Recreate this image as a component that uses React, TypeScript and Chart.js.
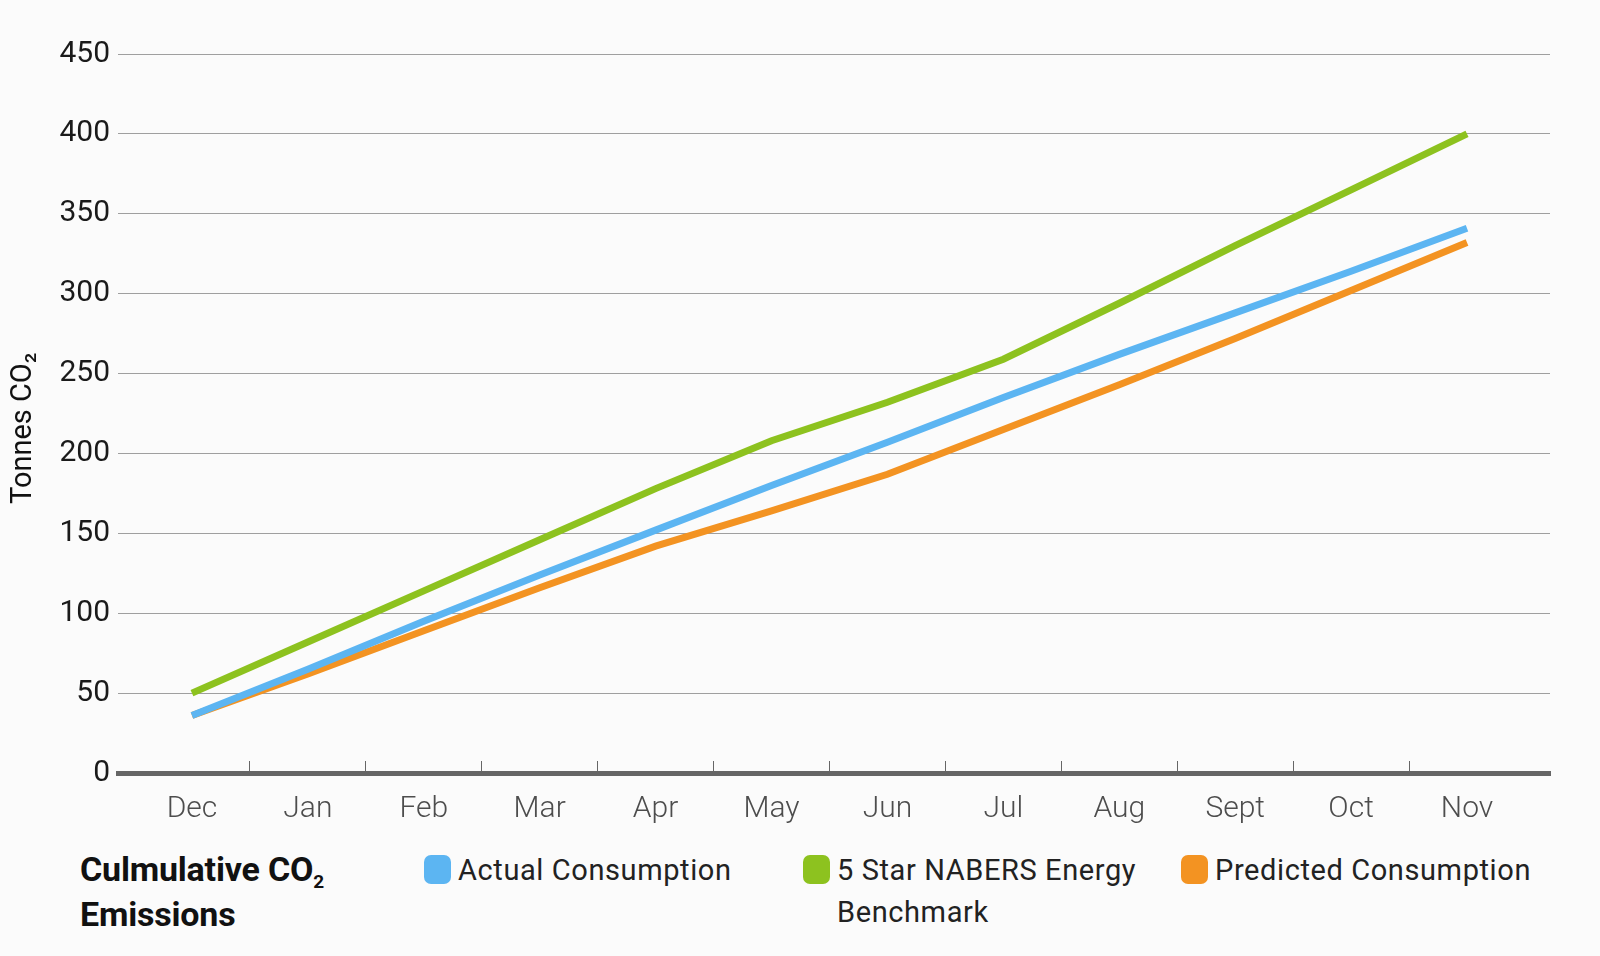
import React, { useEffect, useRef } from "react";
import { Chart, registerables } from "chart.js";

Chart.register(...registerables);

const months = ["Dec", "Jan", "Feb", "Mar", "Apr", "May", "Jun", "Jul", "Aug", "Sept", "Oct", "Nov"];
const yTickValues = [0, 50, 100, 150, 200, 250, 300, 350, 400, 450];
const actualConsumption = [36, 65, 95, 124, 152, 180, 207, 235, 262, 288, 314, 341];
const nabersBenchmark = [50, 82, 114, 146, 178, 208, 232, 259, 294, 330, 365, 400];
const predictedConsumption = [36, 62, 89, 116, 142, 164, 187, 215, 243, 272, 302, 332];
const seriesNames = ["Actual Consumption", "5 Star NABERS Energy Benchmark", "Predicted Consumption"];
const seriesColors = ["#5CB5F2", "#8DC21F", "#F39322"];
const yAxisTitle = "Tonnes CO\u2082";

const FONT = "Roboto, 'Noto Sans', 'DejaVu Sans', sans-serif";

export default function App() {
  const canvasRef = useRef<HTMLCanvasElement | null>(null);

  useEffect(() => {
    document.body.style.margin = "0";
    const canvas = canvasRef.current;
    if (!canvas) return;
    const seriesValues = [actualConsumption, nabersBenchmark, predictedConsumption];
    const chart = new Chart(canvas, {
      type: "line",
      data: {
        datasets: seriesValues.map((vals, k) => ({
          label: seriesNames[k],
          data: vals.map((v, i) => ({ x: i, y: v })),
          borderColor: seriesColors[k],
          backgroundColor: seriesColors[k],
          borderWidth: 7,
          pointRadius: 0,
          tension: 0,
          fill: false,
        })),
      },
      options: {
        animation: false,
        responsive: false,
        maintainAspectRatio: false,
        layout: { padding: { left: 0, right: 50, top: 54, bottom: 7 } },
        plugins: { legend: { display: false }, tooltip: { enabled: false } },
        scales: {
          x: {
            type: "linear",
            min: -0.638,
            max: 11.716,
            afterBuildTicks: (scale: any) => {
              scale.ticks = months.map((_, i) => ({ value: i }));
            },
            afterFit: (scale: any) => {
              scale.height = 60;
            },
            ticks: {
              autoSkip: false,
              maxRotation: 0,
              padding: 30,
              color: "#4d4d4d",
              font: { family: FONT, size: 30, weight: "300" },
              callback: (v: any) => months[v as number] ?? "",
            },
            grid: {
              offset: true,
              drawOnChartArea: false,
              drawTicks: true,
              tickLength: -12,
              lineWidth: 1,
              color: (ctx: any) =>
                ctx.type !== "tick" || ctx.index === 0 ? "rgba(0,0,0,0)" : "#666666",
            },
            border: { display: true, width: 5, color: "#666666" },
          },
          y: {
            min: yTickValues[0],
            max: yTickValues[yTickValues.length - 1],
            afterBuildTicks: (scale: any) => {
              scale.ticks = yTickValues.map((v) => ({ value: v }));
            },
            afterFit: (scale: any) => {
              scale.width = 118;
            },
            ticks: {
              padding: 8,
              color: "#1a1a1a",
              font: { family: FONT, size: 30, weight: "400" },
            },
            grid: {
              drawTicks: false,
              color: "#9f9f9f",
              lineWidth: 1,
            },
            border: { display: false },
            title: {
              display: true,
              text: yAxisTitle + "\u2003",
              color: "#111111",
              font: { family: FONT, size: 29, weight: "400" },
              padding: { top: 6, bottom: 0 },
            },
          },
        },
      },
    });
    return () => chart.destroy();
  }, []);

  const legendLeft = [424, 803, 1181];
  const legendWidth = [330, 345, 400];

  return (
    <div
      style={{
        position: "fixed",
        left: 0,
        top: 0,
        width: 1600,
        height: 956,
        background: "#fbfbfb",
        fontFamily: FONT,
        overflow: "hidden",
      }}
    >
      <canvas ref={canvasRef} width={1600} height={840} style={{ position: "absolute", left: 0, top: 0 }} />
      <div
        style={{
          position: "absolute",
          left: 80,
          top: 847,
          fontSize: 34,
          fontWeight: 700,
          lineHeight: "45px",
          color: "#111",
          letterSpacing: "-0.2px",
        }}
      >
        Culmulative CO<sub style={{ fontSize: 19, verticalAlign: "-7px", lineHeight: 0 }}>2</sub>
        <br />
        Emissions
      </div>
      {seriesNames.map((name, k) => (
        <div
          key={name}
          style={{
            position: "absolute",
            left: legendLeft[k],
            top: 849,
            width: legendWidth[k],
            display: "flex",
            alignItems: "flex-start",
          }}
        >
          <div
            style={{
              width: 27,
              height: 29,
              borderRadius: 7,
              background: seriesColors[k],
              marginTop: 6,
              flex: "0 0 auto",
            }}
          />
          <div
            style={{
              marginLeft: 7,
              fontSize: 29,
              lineHeight: "42px",
              color: "#222",
              letterSpacing: "0.6px",
            }}
          >
            {name}
          </div>
        </div>
      ))}
    </div>
  );
}
